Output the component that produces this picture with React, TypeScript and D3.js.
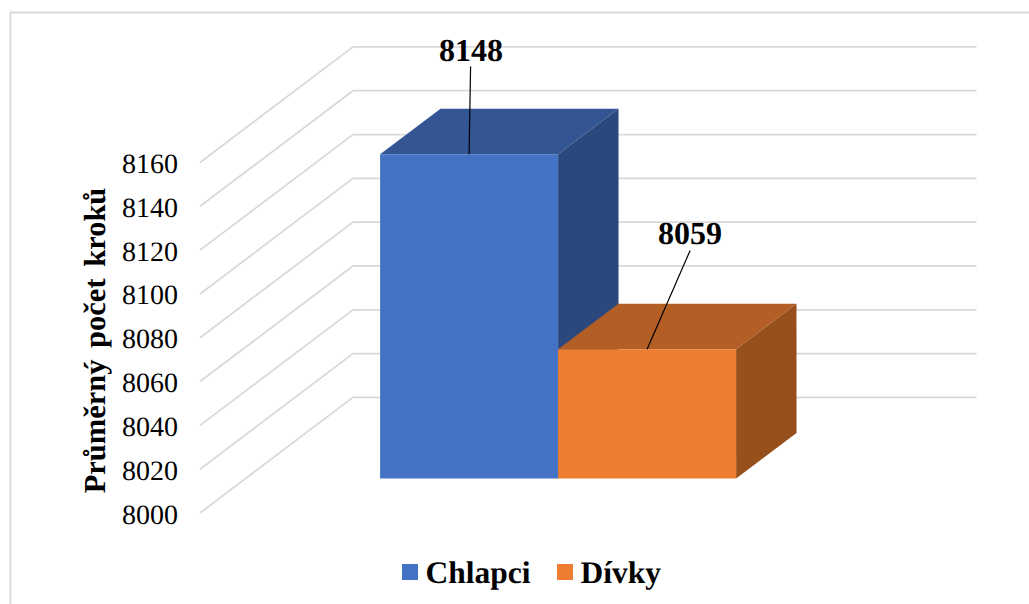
import React, { useRef, useEffect } from 'react';
import * as d3 from 'd3';

const categories = ['Chlapci', 'Dívky'];
const values = [8148, 8059];
const yTicks = [8000, 8020, 8040, 8060, 8080, 8100, 8120, 8140, 8160];
const faceColors = ['#4472c4', '#ed7d31'];
const topColors = ['#335593', '#b25e24'];
const sideColors = ['#2b487d', '#97501c'];
const serif = "'Liberation Serif', serif";

export default function App() {
  const svgRef = useRef<SVGSVGElement>(null);

  useEffect(() => {
    if (!svgRef.current) return;
    const svg = d3.select(svgRef.current);
    svg.selectAll('*').remove();

    //frame
    svg.append('path')
      .attr('d', 'M10.5,604V12.5H1029')
      .attr('fill', 'none')
      .attr('stroke', '#d9d9d9')
      .attr('stroke-width', 1.8);

    //scales for the front plane
    const yScale = d3.scaleLinear().domain([8000, 8160]).range([513, 162.5]);
    const xScale = d3.scaleBand<string>()
      .domain(categories)
      .range([201, 824])
      .paddingInner(0)
      .paddingOuter(0.75);

    //oblique depth, t goes 0 (front wall) to 1 (back wall)
    const depthX = 153;
    const depthY = -115.6;
    const barFront = 0.298;
    const barBack = 0.693;
    const px = (x: number, t: number) => x + depthX * t;
    const py = (v: number, t: number) => yScale(v) + depthY * t;
    const poly = d3.line<[number, number]>();

    //gridlines
    yTicks.forEach(v => {
      svg.append('path')
        .attr('d', poly([
          [200, py(v, 0)],
          [px(200, 1), py(v, 1)],
          [px(823.5, 1), py(v, 1)],
        ]))
        .attr('fill', 'none')
        .attr('stroke', '#d9d9d9')
        .attr('stroke-width', 1.8);
    });

    //tick labels
    svg.append('g')
      .selectAll('text')
      .data(yTicks)
      .join('text')
      .attr('x', 178)
      .attr('y', d => yScale(d) + 10.5)
      .attr('text-anchor', 'end')
      .attr('font-family', serif)
      .attr('font-size', 28)
      .attr('text-rendering', 'geometricPrecision')
      .attr('fill', '#000')
      .text(d => d);

    //bars
    categories.forEach((c, i) => {
      const x0 = xScale(c)!;
      const x1 = x0 + xScale.bandwidth();
      const v = values[i];
      const base = 8000;
      const g = svg.append('g');
      //top
      g.append('path')
        .attr('d', poly([
          [px(x0, barFront), py(v, barFront)],
          [px(x0, barBack), py(v, barBack)],
          [px(x1, barBack), py(v, barBack)],
          [px(x1, barFront), py(v, barFront)],
        ])! + 'Z')
        .attr('fill', topColors[i]);
      //side
      g.append('path')
        .attr('d', poly([
          [px(x1, barFront), py(v, barFront)],
          [px(x1, barBack), py(v, barBack)],
          [px(x1, barBack), py(base, barBack)],
          [px(x1, barFront), py(base, barFront)],
        ])! + 'Z')
        .attr('fill', sideColors[i]);
      //front
      g.append('path')
        .attr('d', poly([
          [px(x0, barFront), py(v, barFront)],
          [px(x1, barFront), py(v, barFront)],
          [px(x1, barFront), py(base, barFront)],
          [px(x0, barFront), py(base, barFront)],
        ])! + 'Z')
        .attr('fill', faceColors[i]);
    });

    //leader lines and value labels
    const labelOffsets = [
      { dx: 1.5, top: 66.5, textX: 471, textY: 60.5 },
      { dx: 43, top: 250.5, textX: 690, textY: 243.5 },
    ];
    categories.forEach((c, i) => {
      const cx = px(xScale(c)! + xScale.bandwidth() / 2, barFront);
      const o = labelOffsets[i];
      svg.append('line')
        .attr('x1', cx)
        .attr('y1', py(values[i], barFront))
        .attr('x2', cx + o.dx)
        .attr('y2', o.top)
        .attr('stroke', '#000')
        .attr('stroke-width', 1.2);
      svg.append('text')
        .attr('x', o.textX)
        .attr('y', o.textY)
        .attr('text-anchor', 'middle')
        .attr('font-family', serif)
        .attr('font-size', 32)
        .attr('font-weight', 'bold')
        .attr('text-rendering', 'geometricPrecision')
        .text(values[i]);
    });

    //axis title
    svg.append('text')
      .attr('transform', 'translate(105,340.5) rotate(-90)')
      .attr('text-anchor', 'middle')
      .attr('font-family', serif)
      .attr('font-size', 30.5)
      .attr('font-weight', 'bold')
      .attr('word-spacing', 4)
      .attr('text-rendering', 'geometricPrecision')
      .text('Průměrný počet kroků');

    //legend
    const legendX = [402, 557];
    categories.forEach((c, i) => {
      svg.append('rect')
        .attr('x', legendX[i])
        .attr('y', 564)
        .attr('width', 16)
        .attr('height', 16)
        .attr('fill', faceColors[i]);
      svg.append('text')
        .attr('x', legendX[i] + 23.5)
        .attr('y', 583)
        .attr('font-family', serif)
        .attr('font-size', 31.5)
        .attr('font-weight', 'bold')
        .attr('text-rendering', 'geometricPrecision')
        .text(c);
    });
  }, []);

  return (
    <svg
      ref={svgRef}
      width={1029}
      height={604}
      style={{ position: 'fixed', left: 0, top: 0, background: '#fff' }}
    />
  );
}
